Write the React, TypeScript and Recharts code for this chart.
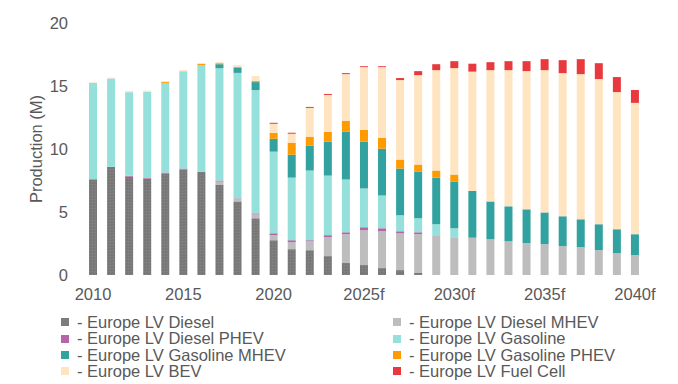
import React from "react";
import { BarChart, Bar, XAxis, YAxis, Legend } from "recharts";

const categories = [
  "2010", "2011", "2012", "2013", "2014", "2015", "2016", "2017", "2018", "2019",
  "2020", "2021", "2022", "2023", "2024", "2025f", "2026f", "2027f", "2028f", "2029f",
  "2030f", "2031f", "2032f", "2033f", "2034f", "2035f", "2036f", "2037f", "2038f", "2039f",
  "2040f",
];

const diesel = [7.6, 8.6, 7.8, 7.66, 8.05, 8.37, 8.2, 7.18, 5.84, 4.5, 2.76, 2.05, 1.97, 1.5, 0.95, 0.79, 0.55, 0.39, 0.16, 0, 0, 0, 0, 0, 0, 0, 0, 0, 0, 0, 0];
const dieselMhev = [0, 0, 0, 0, 0, 0, 0, 0.24, 0.24, 0.31, 0.4, 0.55, 0.71, 1.5, 2.29, 2.76, 2.92, 2.92, 3.08, 3.16, 3.0, 2.96, 2.84, 2.68, 2.53, 2.45, 2.29, 2.21, 1.97, 1.74, 1.58];
const dieselPhev = [0, 0, 0.08, 0.07, 0.08, 0.08, 0.02, 0.08, 0.02, 0.08, 0.15, 0.16, 0.08, 0.16, 0.15, 0.24, 0.24, 0.16, 0.15, 0, 0, 0, 0, 0, 0, 0, 0, 0, 0, 0, 0];
const gasoline = [7.65, 7.0, 6.63, 6.8, 7.1, 7.73, 8.45, 8.92, 9.94, 9.79, 6.48, 4.97, 5.53, 4.73, 4.19, 3.08, 2.6, 1.27, 1.11, 0.87, 0.71, 0, 0, 0, 0, 0, 0, 0, 0, 0, 0];
const gasolineMhev = [0, 0, 0, 0, 0, 0, 0, 0.31, 0.4, 0.63, 1.02, 1.82, 1.97, 2.69, 3.79, 3.71, 3.71, 3.71, 3.71, 3.7, 3.71, 3.71, 3.0, 2.77, 2.68, 2.52, 2.37, 2.21, 2.06, 1.89, 1.66];
const gasolinePhev = [0, 0, 0, 0, 0.08, 0, 0.08, 0.08, 0.08, 0.08, 0.48, 0.95, 0.71, 0.79, 0.86, 0.94, 0.87, 0.71, 0.55, 0.56, 0.55, 0, 0, 0, 0, 0, 0, 0, 0, 0, 0];
const bev = [0.05, 0.07, 0.1, 0.1, 0.08, 0.08, 0.08, 0.08, 0.15, 0.4, 0.71, 0.71, 2.29, 2.92, 3.71, 4.98, 5.61, 6.31, 7.1, 7.97, 8.45, 9.47, 10.42, 10.81, 10.97, 11.29, 11.36, 11.52, 11.52, 10.89, 10.42];
const fuelCell = [0, 0, 0, 0, 0, 0, 0, 0, 0, 0, 0.08, 0.08, 0.08, 0.08, 0.08, 0.07, 0.07, 0.16, 0.32, 0.47, 0.55, 0.63, 0.63, 0.71, 0.79, 0.87, 1.03, 1.19, 1.26, 1.19, 1.02];

const yTicks = [0, 5, 10, 15, 20];

const series = [
  { key: "diesel", name: "- Europe LV Diesel", values: diesel, color: "#7b7b7b", fill: "url(#dieselPattern)" },
  { key: "dieselMhev", name: "- Europe LV Diesel MHEV", values: dieselMhev, color: "#bdbdbd", fill: "#bdbdbd" },
  { key: "dieselPhev", name: "- Europe LV Diesel PHEV", values: dieselPhev, color: "#b565a7", fill: "#b565a7" },
  { key: "gasoline", name: "- Europe LV Gasoline", values: gasoline, color: "#96e0dc", fill: "#96e0dc" },
  { key: "gasolineMhev", name: "- Europe LV Gasoline MHEV", values: gasolineMhev, color: "#31a29f", fill: "#31a29f" },
  { key: "gasolinePhev", name: "- Europe LV Gasoline PHEV", values: gasolinePhev, color: "#ff9a00", fill: "#ff9a00" },
  { key: "bev", name: "- Europe LV BEV", values: bev, color: "#ffe4c1", fill: "#ffe4c1" },
  { key: "fuelCell", name: "- Europe LV Fuel Cell", values: fuelCell, color: "#e8393e", fill: "#e8393e" },
];

const data = categories.map((year, i) => {
  const row: Record<string, string | number> = { year };
  series.forEach((s) => {
    row[s.key] = s.values[i];
  });
  return row;
});

const textColor = "#595959";
const fontFamily = "'Liberation Sans', Arial, sans-serif";

function LegendBox() {
  return (
    <div
      style={{
        display: "grid",
        gridTemplateColumns: "332px 300px",
        fontFamily,
        fontSize: 16.5,
        color: textColor,
      }}
    >
      {series.map((s) => (
        <div key={s.key} style={{ display: "flex", alignItems: "center", height: 16.4, whiteSpace: "nowrap" }}>
          <span style={{ width: 8, height: 8, background: s.color, marginRight: 8, flex: "none" }} />
          <span style={{ lineHeight: "16.4px" }}>{s.name}</span>
        </div>
      ))}
    </div>
  );
}

export default function App() {
  return (
    <div style={{ width: 678, height: 384, position: "relative" }}>
      <style>{`body{margin:0}`}</style>
      <BarChart
        width={678}
        height={384}
        data={data}
        margin={{ top: 23, right: 34, bottom: 79, left: 0 }}
        style={{ fontFamily }}
      >
        <defs>
          {/* fine grey noise like the source's textured diesel fill */}
          <pattern id="dieselPattern" width="3" height="3" patternUnits="userSpaceOnUse">
            <rect width="3" height="3" fill="#7b7b7b" />
            <rect width="1" height="1" fill="#727272" />
            <rect x="2" y="1" width="1" height="1" fill="#858585" />
            <rect x="1" y="2" width="1" height="1" fill="#757575" />
          </pattern>
        </defs>
        <XAxis
          dataKey="year"
          interval={4}
          axisLine={false}
          tickLine={false}
          height={30}
          tickMargin={7}
          tick={{ fill: textColor, fontSize: 16.5 }}
        />
        <YAxis
          domain={[0, 20]}
          ticks={yTicks}
          axisLine={false}
          tickLine={false}
          width={84}
          tickMargin={10}
          tick={{ fill: textColor, fontSize: 16.5 }}
          label={{ value: "Production (M)", angle: -90, position: "center", dx: -6, fill: textColor, fontSize: 16.5 }}
        />
        <Legend
          layout="horizontal"
          verticalAlign="middle"
          align="center"
          wrapperStyle={{ position: "absolute", left: 61, top: 314, width: 620, height: 70 }}
          content={() => <LegendBox />}
        />
        {series.map((s) => (
          <Bar
            key={s.key}
            dataKey={s.key}
            name={s.name}
            stackId="a"
            fill={s.fill}
            barSize={8}
            isAnimationActive={false}
          />
        ))}
      </BarChart>
    </div>
  );
}
